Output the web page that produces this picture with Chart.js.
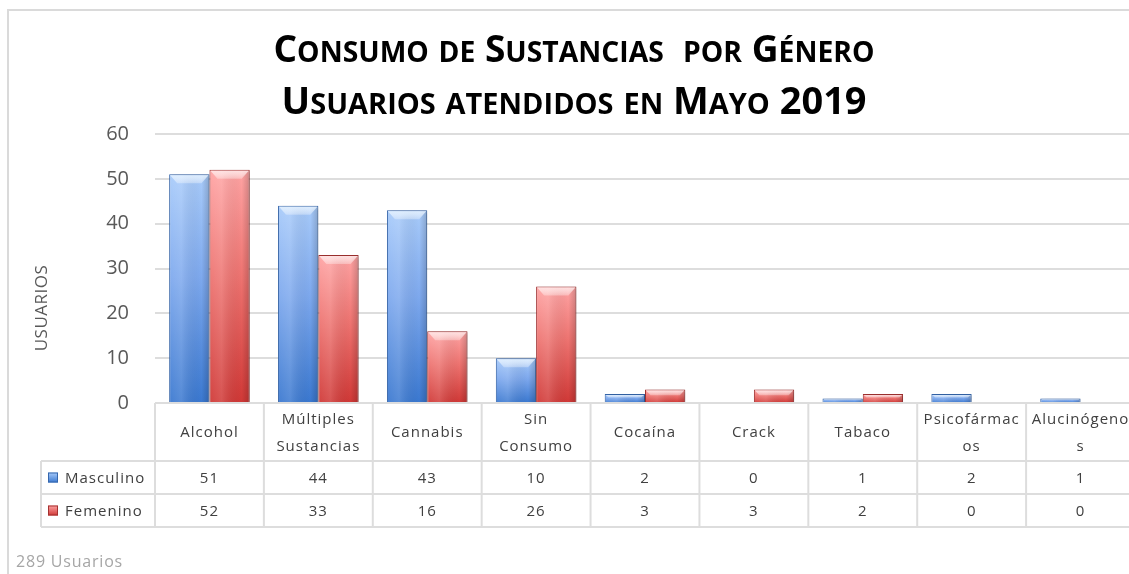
<!DOCTYPE html>
<html>
<head>
<meta charset="utf-8">
<script src="https://cdn.jsdelivr.net/npm/chart.js@4.4.1/dist/chart.umd.min.js"></script>
<style>
  html, body { margin: 0; padding: 0; background: #fff; overflow: hidden; }
  body { width: 1129px; height: 574px; position: relative; font-family: 'Open Sans', sans-serif; }
  #frame { position: absolute; left: 7px; top: 9px; width: 1300px; height: 700px;
           border-left: 2px solid #DADADA; border-top: 2px solid #DADADA; }
  #wrap { position: absolute; left: 0; top: 0; width: 1140px; height: 574px; }
  .title { position: absolute; left: 0; width: 1148px; text-align: center; color: #000;
           font-weight: 700; font-size: 38px; line-height: 38px; white-space: nowrap; }
  .title > span { display: inline-block; transform-origin: center; }
  .title .sc { font-size: 29px; }
  #foot { position: absolute; left: 16px; top: 553px; font-size: 16px; line-height: 16px;
          color: #A6A6A6; letter-spacing: 0.8px; }
</style>
</head>
<body>
<div id="frame"></div>
<div id="wrap"><canvas id="chart"></canvas></div>
<div class="title" style="top:28px"><span data-w="601">Consumo de Sustancias  por Género</span></div>
<div class="title" style="top:80px"><span data-w="585">Usuarios atendidos en Mayo 2019</span></div>
<div id="foot">289 Usuarios</div>
<script>
'use strict';

// ── Data ───────────────────────────────────────────────────────────────────
const categories = [
  'Alcohol', ['Múltiples', 'Sustancias'], 'Cannabis', ['Sin', 'Consumo'],
  'Cocaína', 'Crack', 'Tabaco', ['Psicofármac', 'os'], ['Alucinógeno', 's']
];
const masculino = [51, 44, 43, 10, 2, 0, 1, 2, 1];
const femenino  = [52, 33, 16, 26, 3, 3, 2, 0, 0];
const seriesNames = ['Masculino', 'Femenino'];
const yMin = 0, yMax = 60, yStep = 10;
const yTitle = 'USUARIOS';

// ── Colours ────────────────────────────────────────────────────────────────
const BLUE = { top: '#A8CBFA', mid: '#7EA9EE', bot: '#3A78D0', edge: '#3566AC', hi: 'rgba(225,240,255,0.95)' };
const RED  = { top: '#FFA4A4', mid: '#EE7471', bot: '#D03836', edge: '#A33130', hi: 'rgba(255,230,230,0.95)' };
const GRID = '#DDDDDD';
const TEXT = '#404040';
const TICK = '#595959';

// Table geometry (relative to plot bottom)
const HEADER_H = 58;
const ROW_H = 33;
const LEGEND_X = 41;

const barFill = (pal) => (c) => {
  const chart = c.chart;
  if (!chart.chartArea || c.raw == null) return pal.mid;
  const y = chart.scales.y;
  const top = y.getPixelForValue(c.raw);
  const bot = y.getPixelForValue(0);
  if (bot - top < 1) return pal.mid;
  const g = chart.ctx.createLinearGradient(0, top, 0, bot);
  g.addColorStop(0, pal.top);
  g.addColorStop(0.45, pal.mid);
  g.addColorStop(1, pal.bot);
  return g;
};

// ── Bar shading: shadow, side shading, bevel on top ───────────────────────
const bevelPlugin = {
  id: 'bevel',
  beforeDatasetsDraw(chart) {
    const ctx = chart.ctx;
    ctx.save();
    ctx.shadowColor = 'rgba(0,0,0,0.28)';
    ctx.shadowBlur = 4;
    ctx.shadowOffsetX = 2;
    ctx.shadowOffsetY = 1;
  },
  afterDatasetsDraw(chart) {
    const ctx = chart.ctx;
    ctx.restore();
    chart.data.datasets.forEach((ds, di) => {
      const pal = di === 0 ? BLUE : RED;
      chart.getDatasetMeta(di).data.forEach((bar) => {
        const w = bar.width;
        const l = bar.x - w / 2, r = bar.x + w / 2;
        const t = bar.y, b = bar.base;
        const h = b - t;
        if (h < 1) return;
        // side shading
        const sg = ctx.createLinearGradient(l, 0, r, 0);
        sg.addColorStop(0, 'rgba(255,255,255,0.05)');
        sg.addColorStop(0.3, 'rgba(255,255,255,0.14)');
        sg.addColorStop(0.8, 'rgba(0,0,0,0)');
        sg.addColorStop(1, 'rgba(0,0,0,0.18)');
        ctx.fillStyle = sg;
        ctx.fillRect(l + 1, t + 1, w - 2, h - 1);
        // bevel
        const bh = Math.min(9, h * 0.45);
        const inset = Math.min(7, bh * 0.8);
        const bg = ctx.createLinearGradient(0, t, 0, t + bh);
        bg.addColorStop(0, pal.hi);
        bg.addColorStop(1, 'rgba(255,255,255,0.3)');
        ctx.fillStyle = bg;
        ctx.beginPath();
        ctx.moveTo(l + 1, t + 1);
        ctx.lineTo(r - 1, t + 1);
        ctx.lineTo(r - 1 - inset, t + bh);
        ctx.lineTo(l + 1 + inset, t + bh);
        ctx.closePath();
        ctx.fill();
      });
    });
  }
};

// ── Data table under the plot + y title ───────────────────────────────────
const tablePlugin = {
  id: 'dataTable',
  afterDraw(chart) {
    const { ctx, chartArea } = chart;
    const x = chart.scales.x;
    const n = categories.length;
    const colW = x.width / n;
    const left = chartArea.left, right = chartArea.right;
    const y0 = chartArea.bottom;
    const y1 = y0 + HEADER_H, y2 = y1 + ROW_H, y3 = y2 + ROW_H;

    ctx.save();
    ctx.strokeStyle = GRID;
    ctx.lineWidth = 2;
    ctx.beginPath();
    ctx.moveTo(left, y0); ctx.lineTo(right + 10, y0);
    [y1, y2, y3].forEach(yy => { ctx.moveTo(LEGEND_X, yy); ctx.lineTo(right + 10, yy); });
    ctx.moveTo(LEGEND_X, y1); ctx.lineTo(LEGEND_X, y3);
    for (let i = 0; i <= n; i++) {
      const xx = x.getPixelForValue(0) - colW / 2 + i * colW;
      ctx.moveTo(xx, y0); ctx.lineTo(xx, y3);
    }
    ctx.stroke();

    ctx.fillStyle = TEXT;
    ctx.font = "15px 'Open Sans', sans-serif";
    ctx.letterSpacing = '1px';
    ctx.textAlign = 'center';
    ctx.textBaseline = 'middle';
    categories.forEach((cat, i) => {
      const cx = x.getPixelForValue(i);
      const lines = Array.isArray(cat) ? cat : [cat];
      const mid = (y0 + y1) / 2 + 1;
      lines.forEach((ln, k) => {
        const yy = mid + (k - (lines.length - 1) / 2) * 27;
        ctx.fillText(ln, cx, yy);
      });
      ctx.fillText(String(masculino[i]), cx, (y1 + y2) / 2 + 1);
      ctx.fillText(String(femenino[i]), cx, (y2 + y3) / 2 + 1);
    });

    // legend keys
    [BLUE, RED].forEach((pal, k) => {
      const cy = (k === 0 ? (y1 + y2) / 2 : (y2 + y3) / 2);
      const g = ctx.createLinearGradient(0, cy - 5, 0, cy + 5);
      g.addColorStop(0, pal.top); g.addColorStop(1, pal.bot);
      ctx.fillStyle = g;
      ctx.fillRect(48, cy - 5, 10, 10);
      ctx.strokeStyle = pal.edge; ctx.lineWidth = 1;
      ctx.strokeRect(48.5, cy - 4.5, 9, 9);
      ctx.fillStyle = TEXT;
      ctx.textAlign = 'left';
      ctx.fillText(seriesNames[k], 65, cy + 1);
    });

    // y axis title
    ctx.translate(42, 308);
    ctx.rotate(-Math.PI / 2);
    ctx.fillStyle = TICK;
    ctx.font = "17px 'Open Sans', sans-serif";
    ctx.letterSpacing = '0.5px';
    ctx.textAlign = 'center';
    ctx.fillText(yTitle, 0, 0);
    ctx.restore();
  }
};

new Chart(document.getElementById('chart'), {
  type: 'bar',
  data: {
    labels: categories,
    datasets: [
      { label: seriesNames[0], data: masculino, backgroundColor: barFill(BLUE),
        borderColor: BLUE.edge, borderWidth: 1 },
      { label: seriesNames[1], data: femenino, backgroundColor: barFill(RED),
        borderColor: RED.edge, borderWidth: 1 },
    ],
  },
  options: {
    responsive: true,
    maintainAspectRatio: false,
    animation: false,
    layout: { padding: { top: 134, left: 0, right: 5, bottom: 0 } },
    datasets: { bar: { categoryPercentage: 0.74, barPercentage: 1.0 } },
    plugins: { legend: { display: false }, title: { display: false }, tooltip: { enabled: false } },
    scales: {
      x: {
        grid: { display: false },
        border: { display: false },
        ticks: { display: false },
        afterFit: (s) => { s.height = 171; },
      },
      y: {
        min: yMin, max: yMax,
        grid: { color: GRID, lineWidth: 2, drawTicks: false },
        border: { display: false },
        ticks: {
          stepSize: yStep, padding: 26, color: TICK,
          font: { family: "'Open Sans', sans-serif", size: 20 },
        },
        afterFit: (s) => { s.width = 155; },
      },
    },
  },
  plugins: [bevelPlugin, tablePlugin],
});

// small caps by hand: capitals full size, the rest upper-cased and smaller
document.querySelectorAll('.title > span').forEach((sp) => {
  const txt = sp.textContent;
  let html = '';
  for (const ch of txt) {
    const isLower = ch !== ch.toUpperCase();
    html += isLower ? `<span class="sc">${ch.toUpperCase()}</span>` : (ch === ' ' ? '&nbsp;' : ch);
  }
  sp.innerHTML = html;
  const target = +sp.dataset.w;
  const w = sp.getBoundingClientRect().width;
  if (w > 0) sp.style.transform = `scaleX(${target / w})`;
});
</script>
</body>
</html>
